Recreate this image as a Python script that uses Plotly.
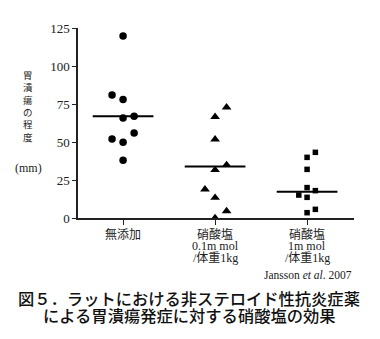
import plotly.graph_objects as go

# Stomach ulcer index (mm) for each rat, by treatment group
category_lines = [
    ["無添加"],
    ["硝酸塩", "0.1m mol", "/体重1kg"],
    ["硝酸塩", "1m mol", "/体重1kg"],
]
control_values = [119.8, 80.9, 78.0, 65.8, 66.9, 55.9, 52.0, 49.8, 38.0]
low_nitrate_values = [72.8, 66.6, 51.8, 34.9, 31.6, 18.9, 13.4, 4.6, 0.0]
high_nitrate_values = [43.2, 39.9, 32.0, 20.0, 18.0, 15.1, 13.6, 5.7, 3.5]
median_values = [66.9, 33.8, 17.3]
y_ticks = [0, 25, 50, 75, 100, 125]

# horizontal spread of tied points around each category centre
control_offsets = [0, -0.12, 0, 0, 0.12, 0.12, -0.12, 0, 0]
low_offsets = [0.125, 0, 0, 0.125, 0, -0.11, 0, 0.125, 0]
high_offsets = [0.09, 0, 0, 0, 0.09, -0.09, 0, 0.09, 0]

groups = [
    (control_values, control_offsets, "circle", 7.5),
    (low_nitrate_values, low_offsets, "triangle-up", 8.5),
    (high_nitrate_values, high_offsets, "square", 5.5),
]

serif = "Liberation Serif, Noto Sans CJK JP"
cjk = "Noto Sans CJK JP"

# plot-area geometry in pixels, used to place free text
L, T, W, H = 78, 28, 276, 190
def py(p):
    return (T + H - p) / H
def px(p):
    return (p - L) / W

fig = go.Figure()
for i, (vals, offs, sym, sz) in enumerate(groups):
    fig.add_trace(go.Scatter(
        x=[i + o for o in offs], y=vals, mode="markers",
        marker=dict(symbol=sym, size=sz, color="black", line=dict(width=0)),
        showlegend=False, hoverinfo="y",
    ))
    fig.add_trace(go.Scatter(
        x=[i - 0.33, i + 0.33], y=[median_values[i]] * 2, mode="lines",
        line=dict(color="black", width=2), showlegend=False, hoverinfo="skip",
    ))

fig.update_xaxes(
    range=[-0.49, 2.51], tickvals=[0, 1, 2], ticktext=["", "", ""],
    showline=True, linecolor="#222", linewidth=1.5, showgrid=False, zeroline=False,
    ticks="outside", ticklen=5, tickwidth=1.2, tickcolor="#222",
)
fig.update_yaxes(
    range=[0, 125], tickvals=y_ticks,
    showline=True, linecolor="#222", linewidth=1.5, showgrid=False, zeroline=False,
    ticks="outside", ticklen=4, tickwidth=1.2, tickcolor="#222",
    tickfont=dict(family=serif, size=13, color="#222"),
)

annotations = []
# category labels, tightly stacked lines under each tick
for i, lines in enumerate(category_lines):
    for k, txt in enumerate(lines):
        annotations.append(dict(
            text=txt, xref="x", yref="paper", x=i, y=py(234 + 12 * k),
            xanchor="center", yanchor="middle", showarrow=False,
            font=dict(family=serif, size=12, color="#222"),
        ))
# vertical axis title
annotations.append(dict(
    text="<br>".join("胃潰瘍の程度"), xref="paper", yref="paper",
    x=px(28), y=py(106), xanchor="center", yanchor="middle", showarrow=False,
    font=dict(family=cjk, size=9.5, color="#222"),
))
annotations.append(dict(
    text="(mm)", xref="paper", yref="paper", x=px(28), y=py(168),
    xanchor="center", yanchor="middle", showarrow=False,
    font=dict(family=serif, size=12, color="#222"),
))
annotations.append(dict(
    text="Jansson <i>et al</i>. 2007", xref="paper", yref="paper",
    x=1.0, y=py(275), xanchor="right", yanchor="middle", showarrow=False,
    font=dict(family=serif, size=11.5, color="#222"),
))
for line, ly in [("図５．ラットにおける非ステロイド性抗炎症薬", 298),
                 ("による胃潰瘍発症に対する硝酸塩の効果", 315)]:
    annotations.append(dict(
        text=line, xref="paper", yref="paper", x=px(189), y=py(ly),
        xanchor="center", yanchor="middle", showarrow=False,
        font=dict(family=cjk, size=16.3, color="#111", weight=500),
    ))

fig.update_layout(
    width=380, height=339,
    margin=dict(l=L, r=380 - L - W, t=T, b=339 - T - H),
    paper_bgcolor="white", plot_bgcolor="white",
    annotations=annotations,
)

fig.write_html("out.html")
